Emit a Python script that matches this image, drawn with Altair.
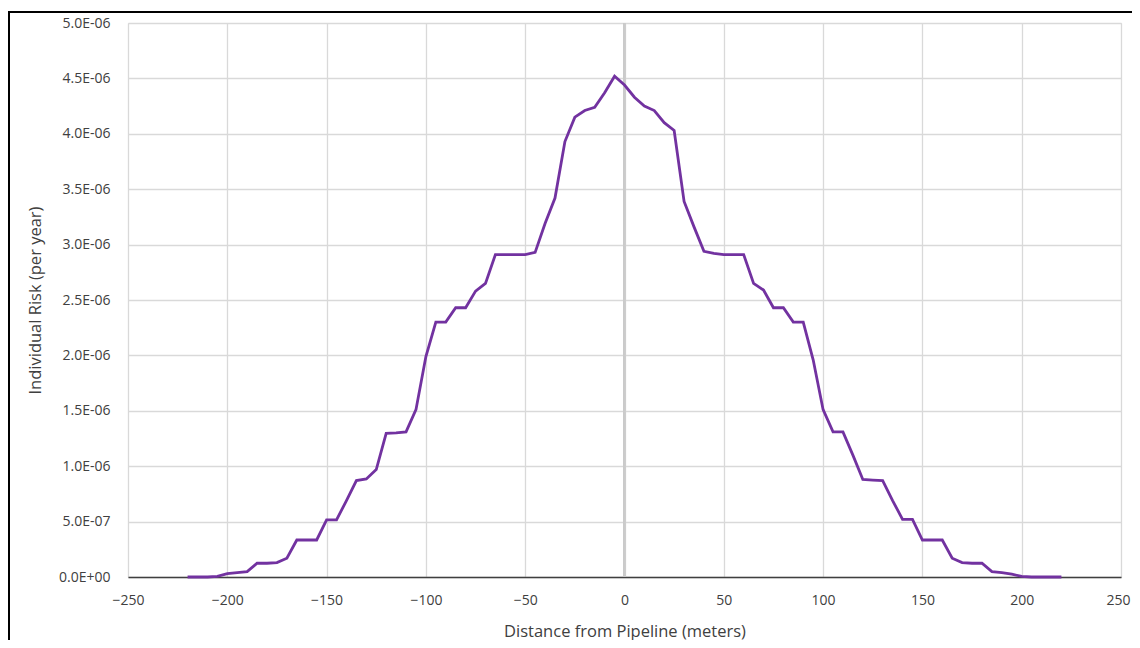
import altair as alt
import pandas as pd

# Distance from pipeline (m) and individual risk (per year)
distance = [-220, -215, -210, -205, -200, -195, -190, -185, -180, -175, -170, -165, -160, -155,
            -150, -145, -140, -135, -130, -125, -120, -115, -110, -105, -100, -95, -90, -85,
            -80, -75, -70, -65, -60, -55, -50, -45, -40, -35, -30, -25, -20, -15, -10, -5,
            0, 5, 10, 15, 20, 25, 30, 35, 40, 45, 50, 55, 60, 65, 70, 75, 80, 85, 90, 95,
            100, 105, 110, 115, 120, 125, 130, 135, 140, 145, 150, 155, 160, 165, 170, 175,
            180, 185, 190, 195, 200, 205, 210, 215, 220]
risk_e6 = [0.0, 0.0, 0.0, 0.005, 0.03, 0.04, 0.048, 0.124, 0.124, 0.13, 0.169, 0.334, 0.334, 0.334,
           0.515, 0.515, 0.69, 0.87, 0.885, 0.97, 1.297, 1.30, 1.31, 1.51, 1.99, 2.30, 2.30, 2.43,
           2.43, 2.58, 2.65, 2.91, 2.91, 2.91, 2.91, 2.93, 3.19, 3.42, 3.93, 4.15, 4.21, 4.24, 4.37, 4.52,
           4.44, 4.33, 4.25, 4.21, 4.10, 4.03, 3.39, 3.16, 2.94, 2.92, 2.91, 2.91, 2.91, 2.65, 2.59, 2.43,
           2.43, 2.30, 2.30, 1.96, 1.51, 1.31, 1.31, 1.10, 0.88, 0.875, 0.87, 0.69, 0.52, 0.52,
           0.334, 0.334, 0.334, 0.169, 0.13, 0.124, 0.124, 0.048, 0.04, 0.025, 0.005, 0.0, 0.0, 0.0, 0.0]

x_ticks = [-250, -200, -150, -100, -50, 0, 50, 100, 150, 200, 250]
y_ticks = [0, 5e-7, 1e-6, 1.5e-6, 2e-6, 2.5e-6, 3e-6, 3.5e-6, 4e-6, 4.5e-6, 5e-6]

df = pd.DataFrame({"distance": distance, "risk": [v * 1e-6 for v in risk_e6]})

FONT = "Open Sans"
W, H = 993, 554

x_enc = alt.X(
    "distance:Q",
    scale=alt.Scale(domain=[-250, 250], nice=False, zero=False),
    axis=alt.Axis(
        values=x_ticks, title="Distance from Pipeline (meters)", grid=True,
        gridColor="#d9d9d9", gridWidth=1.3, domain=True, domainColor="#404040", domainWidth=1.5,
        ticks=False, labelPadding=16, labelFontSize=14, labelColor="#404040",
        labelFont=FONT, titleFont=FONT, titleFontSize=16.5, titleFontWeight="normal",
        titleColor="#404040", titleX=W / 2, titleY=54, titleBaseline="middle",
        labelFlush=False,
        labelOffset={"condition": {"test": "datum.value == 250", "value": -3}, "value": 0},
    ),
)
y_enc = alt.Y(
    "risk:Q",
    scale=alt.Scale(domain=[0, 5e-6], nice=False),
    axis=alt.Axis(
        values=y_ticks, title="Individual Risk (per year)", grid=True,
        gridColor="#d9d9d9", gridWidth=1.3, domain=False, ticks=False, labelPadding=18,
        labelFontSize=14, labelColor="#404040", labelFont=FONT,
        labelExpr="replace(replace(format(datum.value, '.1e'), 'e-', 'E-0'), 'e+', 'E+0')",
        titleFont=FONT, titleFontSize=16.5, titleFontWeight="normal", titleColor="#404040",
        titleX=-93, titleY=H / 2, titleBaseline="middle", titleAngle=-90,
        labelFlush=False,
    ),
)

line = alt.Chart(df).mark_line(color="#7232A0", strokeWidth=2.8).encode(x=x_enc, y=y_enc)

zero_rule = alt.Chart(df).mark_rule(color="#cbcbcb", strokeWidth=1.6).encode(x=alt.datum(0))

frame = alt.Chart(df).mark_rect(fill=None, stroke="#000000", strokeWidth=2, clip=False).encode(
    x=alt.value(-119), x2=alt.value(W + 40), y=alt.value(-11), y2=alt.value(H + 90)
)

chart = alt.layer(zero_rule, line, frame).properties(
    width=W, height=H,
    autosize=alt.AutoSizeParams(type="none"),
    padding={"left": 120, "top": 15, "right": 11, "bottom": 63},
).configure_view(stroke="#404040", strokeWidth=1.2).configure(background="white")

chart.save("out.html", embed_options={"renderer": "svg", "actions": False})
